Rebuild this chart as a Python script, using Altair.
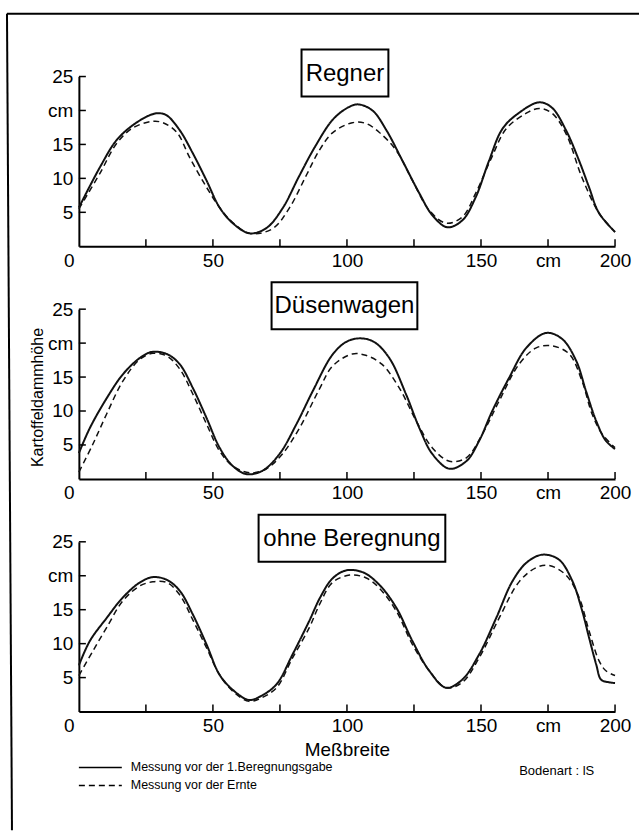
import altair as alt
import pandas as pd

FONT = "Liberation Sans, Arial, sans-serif"

panel_titles = ["Regner", "Düsenwagen", "ohne Beregnung"]
series_names = ["Messung vor der 1.Beregnungsgabe", "Messung vor der Ernte"]

# --- Regner ---
reg_solid_x = [0, 7.8, 14, 20, 26.4, 29.5, 32.7, 37.6, 42.5, 47.6, 52.5, 57.4, 63.7, 70, 76, 82, 88, 94.6,
               99.8, 104, 109.5, 114.7, 120.7, 127, 131.8, 137.4, 143, 148, 153, 158, 164, 171.7, 176.5, 181.7,
               186.6, 190.3, 194, 200]
reg_solid_y = [5.7, 11.6, 15.6, 17.8, 19.3, 19.6, 19.3, 17.1, 13.7, 9.7, 5.7, 3.4, 1.9, 2.7, 5.6, 10.2, 14.6, 18.6,
               20.3, 20.9, 20.0, 17.1, 12.6, 7.8, 4.6, 2.8, 3.8, 7.2, 12.6, 17.3, 19.6, 21.2, 20.4, 17.1,
               12.6, 8.7, 4.9, 2.1]
reg_dash_x = [0, 7.8, 14, 20, 27.6, 31.3, 36.5, 41.3, 47.6, 52.5, 57.4, 63.7, 72.3, 78.6, 84.9, 89.8, 94.6, 102,
              107, 112, 118.4, 124.4, 130.7, 137, 143, 148, 154, 159.4, 166.9, 171.7, 176.5, 181.7, 187.7, 194, 200]
reg_dash_y = [5.5, 10.7, 15.1, 17.4, 18.4, 18.2, 16.8, 13.1, 8.7, 5.7, 3.5, 1.9, 2.6, 5.7, 10.5, 14.2, 16.7, 18.2,
              18.1, 16.8, 14.1, 9.7, 5.3, 3.4, 4.3, 7.8, 13.1, 17.3, 19.6, 20.3, 19.6, 16.6, 10.1, 4.9, 2.1]

# --- Düsenwagen ---
due_solid_x = [0, 4.1, 10.4, 16.4, 22.7, 27.2, 32.8, 37.6, 42.5, 47.6, 52.5, 57.4, 62.6, 68.5, 74.9, 81.2, 87.2,
               94.6, 99.8, 104.7, 110, 115.8, 122, 127, 131.8, 138.2, 144.5, 149.3, 154.2, 160.5, 166.9, 174.3,
               180.3, 185.5, 189.2, 193, 196.6, 200]
due_solid_y = [3.8, 7.5, 11.9, 15.4, 17.8, 18.7, 18.4, 16.9, 13.4, 9.0, 4.6, 1.9, 0.7, 1.2, 3.7, 8.1, 12.9,
               18.3, 20.2, 20.7, 20.2, 17.8, 12.5, 7.5, 3.7, 1.5, 2.6, 5.6, 10.0, 14.9, 19.3, 21.5,
               20.6, 17.4, 12.9, 8.5, 5.6, 4.4]
due_dash_x = [0, 5.2, 10.4, 16.4, 22.7, 27.6, 32.8, 37.6, 42.5, 47.6, 52.5, 57.4, 63.7, 70, 76, 82.3, 89.8, 94.6,
              102, 107, 113, 119.5, 125.9, 131.8, 138.2, 144.5, 150.5, 156.8, 164.2, 170.6, 176.5, 182.9, 187.7,
              191.4, 195.2, 200]
due_dash_y = [1.0, 5.1, 9.6, 14.4, 17.6, 18.5, 18.1, 16.2, 12.5, 8.1, 4.1, 1.9, 0.9, 1.5, 3.7, 7.5, 13.3, 16.6,
              18.4, 18.2, 16.9, 13.4, 8.5, 4.6, 2.6, 3.1, 6.6, 11.5, 16.9, 19.3, 19.6, 18.4, 14.4,
              9.6, 6.6, 4.6]

# --- ohne Beregnung ---
ohne_solid_x = [0, 4.1, 10.4, 16.4, 22.7, 27.6, 32.8, 37.6, 42.5, 47.6, 52.5, 57.4, 63.5, 68, 73.7, 79.7, 86, 90,
                94.6, 99.8, 106, 112, 118.4, 124.4, 130.7, 137, 143, 149.3, 155.7, 161.6, 166.9, 172.8, 179, 184,
                187.7, 190.3, 193, 194.8, 197.8, 200]
ohne_solid_y = [6.8, 10.4, 13.8, 16.8, 19.0, 19.8, 19.4, 17.8, 14.3, 9.9, 5.4, 3.2, 1.7, 2.3, 4.0, 8.4, 13.4, 16.8,
                19.6, 20.8, 20.5, 18.7, 15.3, 10.4, 6.0, 3.5, 4.7, 8.4, 13.8, 19.1, 21.9, 23.1, 22.4, 19.3,
                14.9, 10.9, 6.9, 4.7, 4.3, 4.2]
ohne_dash_x = [0, 5.2, 10.4, 16.4, 22.7, 27.6, 32.8, 37.6, 42.5, 47.6, 52.5, 57.4, 63.5, 68, 73.7, 79.7, 86, 89.8,
               94.6, 101, 107, 112, 118.4, 124.4, 130.7, 137, 143, 149.3, 156.8, 164.2, 170.6, 175.5, 181.7, 186.6,
               190.3, 194, 196.6, 200]
ohne_dash_y = [5.3, 8.9, 12.4, 16.3, 18.5, 19.1, 19.0, 17.2, 13.5, 9.4, 5.4, 3.0, 1.5, 2.0, 3.5, 7.9, 12.4, 15.8,
               19.0, 20.1, 19.7, 18.2, 14.8, 9.9, 6.0, 3.5, 4.3, 7.9, 13.8, 19.1, 21.2, 21.5, 20.1, 16.8,
               11.9, 7.5, 6.0, 5.3]

x_label_values = [0, 50, 100, 150, 175, 200]
x_tick_values = [25, 50, 75, 100, 125, 150, 175, 200]
y_values = [5, 10, 15, 20, 25]
soil_text = "Bodenart : lS"
x_title = "Meßbreite"
y_title = "Kartoffeldammhöhe"

curves = [
    [(reg_solid_x, reg_solid_y), (reg_dash_x, reg_dash_y)],
    [(due_solid_x, due_solid_y), (due_dash_x, due_dash_y)],
    [(ohne_solid_x, ohne_solid_y), (ohne_dash_x, ohne_dash_y)],
]

rows = []
for p, pair in zip(panel_titles, curves):
    for s, (xs, ys) in zip(series_names, pair):
        for xv, yv in zip(xs, ys):
            rows.append({"panel": p, "series": s, "x": xv, "y": yv})
df = pd.DataFrame(rows)

# style: title box extents (local pixel coordinates)
box_extent = [(223, 310), (193, 339), (180, 367)]
W, H = 537, 170


def make_panel(i):
    d = df[df["panel"] == panel_titles[i]]
    xaxis = alt.Axis(
        values=x_label_values,
        labelExpr="datum.value == 175 ? 'cm' : datum.label",
        ticks=False, grid=False, domainWidth=2, domainColor="black",
        labelFont=FONT, labelFontSize=19, labelColor="black", labelPadding=5,
        labelFlush=False, labelOverlap=False,
        labelOffset={"condition": {"test": "datum.value === 0", "value": -10}, "value": 0},
        title=x_title if i == 2 else None,
        titleFont=FONT, titleFontSize=19, titleFontWeight="normal", titleColor="black",
        titleY=38, titleBaseline="middle",
    )
    yaxis_kwargs = dict(
        values=y_values,
        labelExpr="datum.value == 20 ? 'cm' : datum.label",
        ticks=False, grid=False, domainWidth=2, domainColor="black",
        labelFont=FONT, labelFontSize=19, labelColor="black", labelPadding=6,
        labelFlush=False, labelOverlap=False,
        title=y_title if i == 1 else None,
    )
    if i == 1:
        yaxis_kwargs.update(titleFont=FONT, titleFontSize=16, titleFontWeight="normal", titleColor="black",
                            titleX=-41, titleY=88, titleAngle=-90, titleAlign="center", titleBaseline="middle")
    X = alt.X("x:Q", scale=alt.Scale(domain=[0, 200], nice=False, zero=False), axis=xaxis)
    Y = alt.Y("y:Q", scale=alt.Scale(domain=[0, 25], nice=False, zero=False), axis=alt.Axis(**yaxis_kwargs))

    lines = alt.Chart(d).mark_line(interpolate="catmull-rom", color="#111111").encode(
        x=X, y=Y, detail="series:N",
        strokeDash=alt.StrokeDash("series:N", scale=alt.Scale(domain=series_names, range=[[1, 0], [6, 4]]),
                                  legend=None),
        strokeWidth=alt.StrokeWidth("series:N", scale=alt.Scale(domain=series_names, range=[2.0, 1.5]),
                                    legend=None),
    )
    xt = alt.Chart(pd.DataFrame({"x": x_tick_values})).mark_rule(color="black", strokeWidth=1.5).encode(
        x=X, y=alt.value(H), y2=alt.value(H - 7))
    yt = alt.Chart(pd.DataFrame({"y": y_values})).mark_rule(color="black", strokeWidth=1.5).encode(
        y=Y, x=alt.value(0), x2=alt.value(7))
    tdf = pd.DataFrame({"t": [panel_titles[i]]})
    x0, x1 = box_extent[i]
    box = alt.Chart(tdf).mark_rect(fill="white", stroke="black", strokeWidth=2).encode(
        x=alt.value(x0), x2=alt.value(x1), y=alt.value(-27), y2=alt.value(20))
    ttl = alt.Chart(tdf).mark_text(font=FONT, fontSize=24, color="black", align="center",
                                   baseline="middle").encode(
        text="t:N", x=alt.value((x0 + x1) / 2), y=alt.value(-3))
    layers = [lines, xt, yt, box, ttl]

    if i == 0:
        one = pd.DataFrame({"a": [0]})
        left = alt.Chart(one).mark_rule(color="black", strokeWidth=2).encode(
            x=alt.value(-72), x2=alt.value(-67), y=alt.value(-63), y2=alt.value(755))
        top = alt.Chart(one).mark_rule(color="black", strokeWidth=2).encode(
            x=alt.value(-72), x2=alt.value(561), y=alt.value(-63))
        layers += [left, top]
    if i == 2:
        for k, dash in enumerate([[1, 0], [6, 4]]):
            ly = 226 + 18 * k
            sdf = pd.DataFrame({"t": [series_names[k]]})
            layers.append(alt.Chart(sdf).mark_rule(color="black", strokeWidth=1.5, strokeDash=dash).encode(
                x=alt.value(0), x2=alt.value(43), y=alt.value(ly)))
            layers.append(alt.Chart(sdf).mark_text(font=FONT, fontSize=12.5, color="black", align="left",
                                                   baseline="middle").encode(
                text="t:N", x=alt.value(52), y=alt.value(ly)))
        bdf = pd.DataFrame({"t": [soil_text]})
        layers.append(alt.Chart(bdf).mark_text(font=FONT, fontSize=13, color="black", align="left",
                                               baseline="middle").encode(
            text="t:N", x=alt.value(441), y=alt.value(230)))

    return alt.layer(*layers).properties(width=W, height=H)


chart = alt.vconcat(make_panel(0), make_panel(1), make_panel(2), spacing=63, bounds="flush").properties(
    padding={"left": 6, "top": 12, "right": 0, "bottom": 0},
    background="white",
).configure_view(stroke=None)

chart.save("out.html", embed_options={"renderer": "svg", "actions": False})
